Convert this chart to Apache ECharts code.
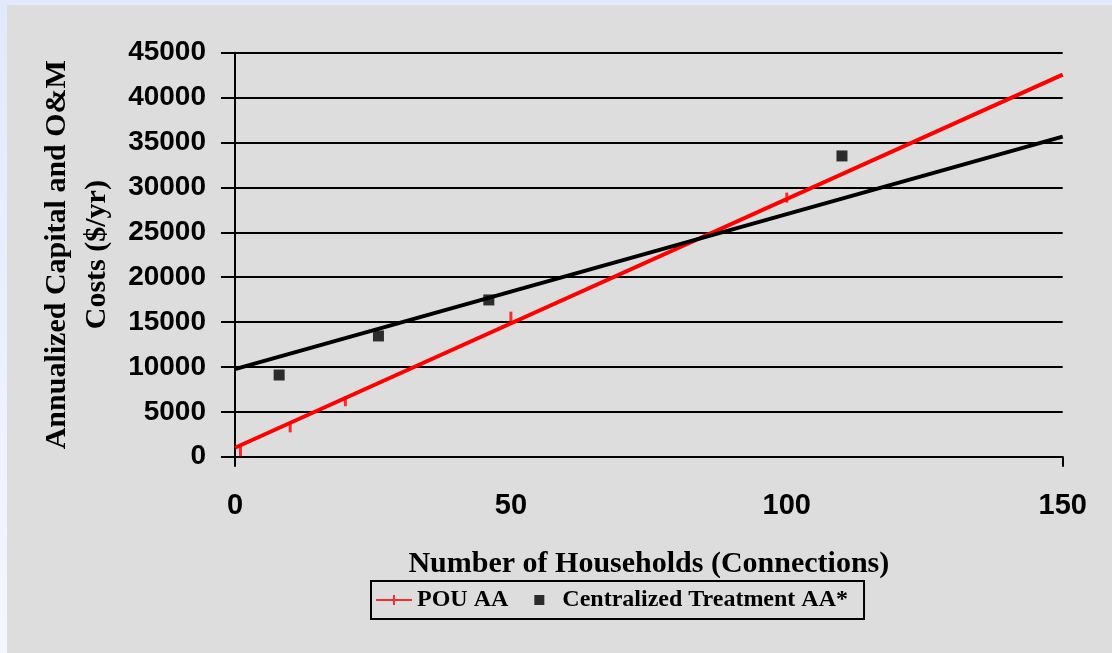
<!DOCTYPE html>
<html>
<head>
<meta charset="utf-8">
<script src="https://cdn.jsdelivr.net/npm/echarts@6/dist/echarts.min.js"></script>
<style>
	html, body { margin: 0; padding: 0; width: 1112px; height: 653px; overflow: hidden; }
	body { background: linear-gradient(to bottom, #e1e9fc, #f4f7ff); position: relative; }
	#chart { position: absolute; left: 7px; top: 5px; width: 1105px; height: 648px; background: #dddddd; }
</style>
</head>
<body>
<div id="chart"></div>
<script>
// 数据
var pouX = [1, 10, 20, 50, 100];
var pouY = [600, 3270, 6180, 15600, 28860];
var centX = [8, 26, 46, 110];
var centY = [9100, 13450, 17460, 33500];
// trend lines, end points
var pouTrendX = [0, 150];
var pouTrendY = [1000, 42550];
var centTrendX = [0, 150];
var centTrendY = [9750, 35650];
// x axis only shows tick marks at its two ends
var xTickMarks = [0, 150];

function pairs(xs, ys) {
	return xs.map(function (x, i) { return [x, ys[i]]; });
}

var sans = 'Liberation Sans';
var serif = 'Liberation Serif';
// short vertical dash marker for the POU points
var dash = 'path://M0,0h2v9h-2z';

var myChart = echarts.init(document.getElementById('chart'));
var option = {
	animation: false,
	backgroundColor: 'transparent',
	grid: {
		left: 228,
		top: 47.7,
		right: 49.3,
		bottom: 196.3,
		containLabel: false
	},
	xAxis: {
		type: 'value',
		min: 0,
		max: 150,
		interval: 50,
		name: 'Number of Households (Connections)',
		nameLocation: 'middle',
		nameGap: 93,
		nameTextStyle: { fontFamily: serif, fontWeight: 'bold', fontSize: 30, color: '#000' },
		axisLine: { show: true, lineStyle: { color: '#000', width: 2 } },
		axisTick: { show: true, length: 10, customValues: xTickMarks, lineStyle: { color: '#000', width: 2 } },
		axisLabel: { fontFamily: sans, fontWeight: 'bold', fontSize: 29, color: '#000', margin: 35 },
		splitLine: { show: false }
	},
	yAxis: {
		type: 'value',
		min: 0,
		max: 45000,
		interval: 5000,
		name: 'Annualized Capital and O&M\nCosts ($/yr)',
		nameLocation: 'middle',
		nameRotate: 90,
		nameGap: 110,
		nameTextStyle: { fontFamily: serif, fontWeight: 'bold', fontSize: 30, lineHeight: 40, color: '#000' },
		axisLine: { show: true, lineStyle: { color: '#000', width: 2 } },
		axisTick: { show: true, length: 14, lineStyle: { color: '#000', width: 2 } },
		axisLabel: {
			fontFamily: sans, fontWeight: 'bold', fontSize: 28, color: '#000', margin: 29,
			formatter: function (v) { return String(v); }
		},
		splitLine: { show: true, lineStyle: { color: '#000', width: 2 } }
	},
	legend: {
		left: 364,
		top: 576,
		orient: 'horizontal',
		backgroundColor: '#dddddd',
		borderColor: '#000',
		borderWidth: 2,
		borderRadius: 0,
		padding: [7, 16, 7, 5],
		itemGap: 26,
		itemWidth: 36,
		itemHeight: 10,
		symbolKeepAspect: true,
		textStyle: { fontFamily: serif, fontWeight: 'bold', fontSize: 24, color: '#000' },
		data: [
			{ name: 'POU AA', icon: 'path://M0,4h36v2h-36z M17,0h2v10h-2z' },
			{ name: 'Centralized Treatment AA*', icon: 'path://M0,0h9v9h-9z' }
		]
	},
	series: [
		{
			name: 'POU AA',
			type: 'scatter',
			symbol: dash,
			symbolSize: [3, 10],
			itemStyle: { color: '#ff0000' },
			z: 3,
			data: pairs(pouX, pouY)
		},
		{
			name: 'Centralized Treatment AA*',
			type: 'scatter',
			symbol: 'rect',
			symbolSize: 11,
			itemStyle: { color: '#000' },
			z: 3,
			data: pairs(centX, centY)
		},
		{
			name: 'POU AA trend',
			type: 'line',
			showSymbol: false,
			lineStyle: { color: '#ff0000', width: 4 },
			z: 4,
			data: pairs(pouTrendX, pouTrendY)
		},
		{
			name: 'Centralized trend',
			type: 'line',
			showSymbol: false,
			lineStyle: { color: '#000', width: 4 },
			z: 4,
			data: pairs(centTrendX, centTrendY)
		}
	]
};
myChart.setOption(option);
</script>
</body>
</html>
